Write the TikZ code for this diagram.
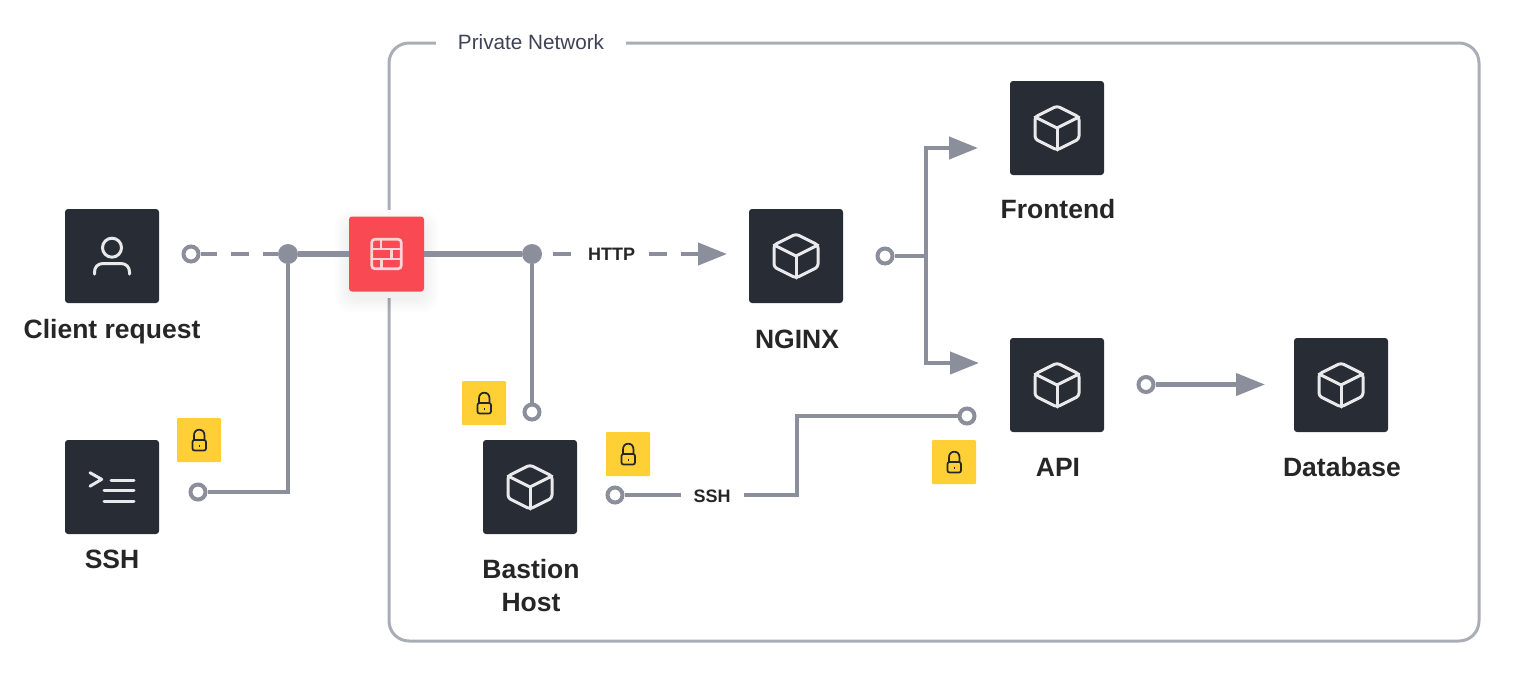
\documentclass[tikz,border=0pt]{standalone}
\usepackage{fontspec}
\setmainfont{Liberation Sans}
\usepackage{tikz}
\usetikzlibrary{calc,arrows.meta}

\definecolor{boxdark}{HTML}{282C35}
\definecolor{wallred}{HTML}{F94A54}
\definecolor{lockyellow}{HTML}{FFD036}
\definecolor{linegrey}{HTML}{8B8F9B}
\definecolor{framegrey}{HTML}{A9AEB6}
\definecolor{netlabel}{HTML}{3F4257}
\definecolor{iconwhite}{HTML}{E9E9EB}
\definecolor{iconpink}{HTML}{FCD3D6}

\tikzset{
    appbox/.style={fill=boxdark, rounded corners=1.5pt, minimum size=47pt, inner sep=0pt},
    wallbox/.style={fill=wallred, rounded corners=1.5pt, minimum size=37.5pt, inner sep=0pt},
    lockbox/.style={fill=lockyellow, rounded corners=0.5pt, minimum size=22pt, inner sep=0pt},
    applabel/.style={font=\bfseries\fontsize{13.25}{16.5}\selectfont, text=black!85, anchor=base, inner sep=0pt},
    linklabel/.style={font=\bfseries\fontsize{9}{11}\selectfont, text=black!85, fill=white, inner ysep=2pt},
    ring/.style={circle, draw=linegrey, fill=white, line width=2pt, minimum size=7.5pt, inner sep=0pt},
    junction/.style={circle, fill=linegrey, minimum size=10pt, inner sep=0pt},
    link/.style={draw=linegrey, line width=2.1pt},
    linktip/.style={link, -{Triangle[length=14.5pt,width=11pt]}},
    iconline/.style={draw=iconwhite, line width=1.5pt, line cap=round, line join=round},
    wallline/.style={draw=iconpink, line width=1.35pt},
    lockline/.style={draw=black!85, line width=0.85pt},
    cubeicon/.pic={
        \draw[iconline, rounded corners=1.5pt] (0,-22) -- (22,-11) -- (22,11) -- (0,22) -- (-22,11) -- (-22,-11) -- cycle;
        \draw[iconline] (-22,-11) -- (0,0) -- (22,-11);
        \draw[iconline] (0,0) -- (0,22);
    },
    personicon/.pic={
        \draw[iconline] (0,-8.3) circle (9.5);
        \draw[iconline] (-17.5,18) -- (-17.5,16) .. controls (-17.5,11) and (-14,7.5) .. (-9,7.5)
            -- (9,7.5) .. controls (14,7.5) and (17.5,11) .. (17.5,16) -- (17.5,18);
    },
    shellicon/.pic={
        \draw[iconline] (-22,-14.3) -- (-10.3,-7.7) -- (-22,-0.8);
        \draw[iconline] (-1,-7) -- (22,-7);
        \draw[iconline] (-8,3.7) -- (22,3.7);
        \draw[iconline] (-8,14) -- (22,14);
    },
    wallicon/.pic={
        \draw[wallline, rounded corners=1.5pt] (-14.7,-14.7) rectangle (14.7,14.7);
        \draw[wallline] (-14.7,-4.9) -- (14.7,-4.9);
        \draw[wallline] (-14.7,4.9) -- (14.7,4.9);
        \draw[wallline] (-5.5,-14.7) -- (-5.5,-4.9);
        \draw[wallline] (4.7,-4.9) -- (4.7,4.9);
        \draw[wallline] (-5,4.9) -- (-5,14.7);
    },
    lockicon/.pic={
        \draw[lockline, rounded corners=1pt] (-6.5,0) rectangle (7,10.5);
        \draw[lockline] (-5,0) -- (-5,-4.5) .. controls (-5,-8) and (-3,-10.3) .. (0.3,-10.3)
            .. controls (3.5,-10.3) and (5.5,-8) .. (5.5,-4.5) -- (5.5,0);
        \draw[lockline, line width=0.7pt] (0.3,4.5) -- (0.3,6.5);
    }
}

\begin{document}
\begin{tikzpicture}[x=0.5pt, y=-0.5pt]
    \useasboundingbox (0,0) rectangle (1527,682);

    % Private network frame
    \draw[framegrey, line width=1.5pt, rounded corners=10pt] (389,43) rectangle (1479,641);
    \node[fill=white, text=netlabel, font=\fontsize{10.35}{13}\selectfont, inner xsep=11pt, inner ysep=2pt] (netname) at (531,42) {Private Network};

    % Gap in the frame and soft shadow below the firewall
    \fill[white] (385,210) rectangle (393,298);
    \foreach \grow in {2,4,...,14} {
        \fill[black, opacity=0.007, rounded corners=7pt] (349-\grow,224-\grow) rectangle (424+\grow,298+\grow);
    }

    % Boxes
    \node[appbox] (client) at (112,256) {};
    \node[appbox] (ssh) at (112,487) {};
    \node[appbox] (bastion) at (530,487) {};
    \node[appbox] (nginx) at (796,256) {};
    \node[appbox] (frontend) at (1057,128) {};
    \node[appbox] (api) at (1057,385) {};
    \node[appbox] (database) at (1341,385) {};
    \node[wallbox] (firewall) at (386.5,254) {};

    % Icons
    \pic at (client) {personicon};
    \pic at (ssh) {shellicon};
    \pic at (firewall) {wallicon};
    \pic at (bastion) {cubeicon};
    \pic at (nginx) {cubeicon};
    \pic at (frontend) {cubeicon};
    \pic at (api) {cubeicon};
    \pic at (database) {cubeicon};

    % Box labels
    \node[applabel] (clientname) at (112,338) {Client request};
    \node[applabel] (sshname) at (112,568) {SSH};
    \node[applabel] (bastionname) at (531,578) {Bastion};
    \node[applabel] (hostname) at (531,611) {Host};
    \node[applabel] (nginxname) at (797,348) {NGINX};
    \node[applabel] (frontendname) at (1058,218) {Frontend};
    \node[applabel] (apiname) at (1058,476) {API};
    \node[applabel] (databasename) at (1342,476) {Database};

    % Locks
    \foreach \lockname/\lockpos in {locka/{(199,440)}, lockb/{(484,403)}, lockc/{(628,454)}, lockd/{(954,462)}} {
        \node[lockbox] (\lockname) at \lockpos {};
        \pic at (\lockname) {lockicon};
    }

    % Connector ends
    \node[ring] (ringclient) at (191,254) {};
    \node[ring] (ringssh) at (198,492) {};
    \node[ring] (ringbastion) at (532,412) {};
    \node[ring] (ringtunnel) at (615,495) {};
    \node[ring] (ringapi) at (967,416) {};
    \node[ring] (ringnginx) at (885,256) {};
    \node[ring] (ringout) at (1146,384.5) {};
    \node[junction] (dotleft) at (288,254) {};
    \node[junction] (dotright) at (532,254) {};
    \coordinate (nginxsplit) at (926,256);
    \coordinate (httptip) at (727,254);
    \coordinate (frontendtip) at (978,148);
    \coordinate (apitip) at (979,363);
    \coordinate (databasetip) at (1265,384.5);
    \coordinate (tunnelup) at (797,495);
    \coordinate (tunnelover) at (797,416);

    % Links outside the private network
    \draw[link, dash pattern=on 9pt off 7pt, dash phase=1pt] (ringclient) -- (dotleft);
    \draw[link, line width=2.75pt] (dotleft) -- (firewall);
    \draw[link] (ringssh) -| (dotleft);

    % Links inside the private network
    \draw[link, line width=2.75pt] (firewall) -- (dotright);
    \draw[link] (ringbastion) -- (dotright);
    \draw[linktip, dash pattern=on 9pt off 7pt, dash phase=10.75pt] (dotright) -- (httptip);
    \node[linklabel, inner xsep=2pt] (httpname) at (611.5,254) {HTTP};
    \draw[link] (ringnginx) -- (nginxsplit);
    \draw[linktip] (nginxsplit) |- (frontendtip);
    \draw[linktip] (nginxsplit) |- (apitip);
    \draw[linktip] (ringout) -- (databasetip);
    \draw[link] (ringtunnel) -- (tunnelup) -- (tunnelover) -- (ringapi);
    \node[linklabel, inner xsep=6.5pt] (tunnelname) at (712,496) {SSH};
\end{tikzpicture}
\end{document}
